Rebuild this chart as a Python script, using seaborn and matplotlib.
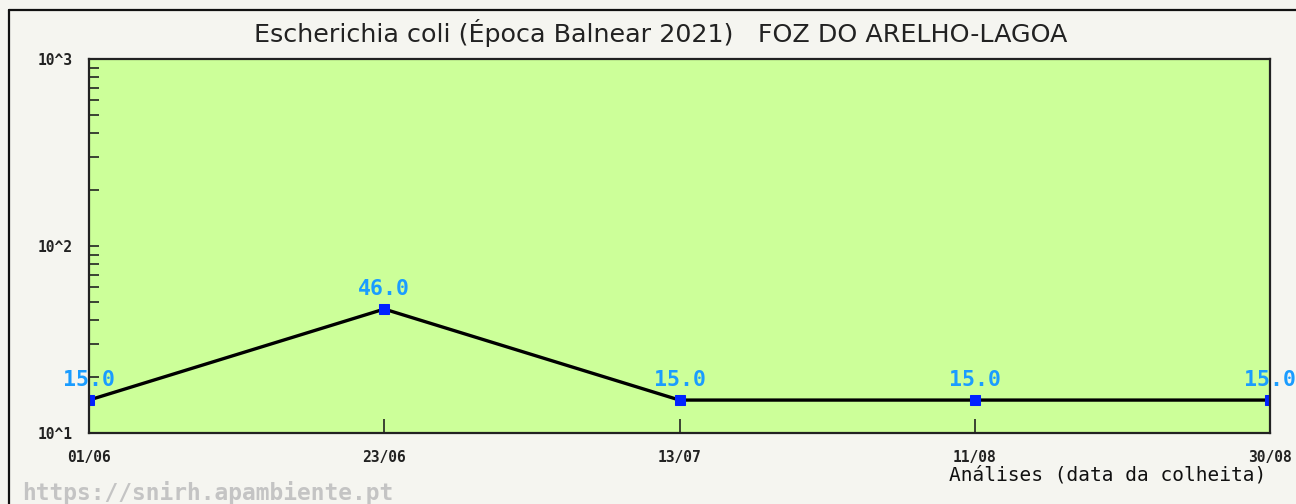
import matplotlib
matplotlib.use('Agg')
import matplotlib.pyplot as plt
import seaborn as sns
import pandas as pd
from matplotlib.ticker import LogLocator, FixedLocator, NullFormatter

dates = ['01/06', '23/06', '13/07', '11/08', '30/08']
values = [15.0, 46.0, 15.0, 15.0, 15.0]
title = 'Escherichia coli (Época Balnear 2021)   FOZ DO ARELHO-LAGOA'

df = pd.DataFrame({'pos': range(len(dates)), 'data': dates, 'valor': values})

sns.set_style('white')
plt.rcParams['font.family'] = ['DejaVu Sans']

fig = plt.figure(figsize=(12.96, 5.04), dpi=100, facecolor='#f5f5f0')
ax = fig.add_axes([89 / 1296, 1 - 433 / 504, (1270 - 89) / 1296, (433 - 59) / 504])
ax.set_facecolor('#ccff99')

sns.lineplot(x='pos', y='valor', data=df, ax=ax, color='black', linewidth=2.4,
             marker='s', markersize=6.5, markerfacecolor='#0022ff', markeredgecolor='#0022ff')

ax.set_yscale('log')
ax.set_ylim(10, 1000)
ax.set_xlim(0, len(dates) - 1)

mono = 'DejaVu Sans Mono'
ax.yaxis.set_major_locator(FixedLocator([10, 100, 1000]))
ax.set_yticklabels(['10^1', '10^2', '10^3'], family=mono,
                   fontweight='bold', fontsize=10.5, color='#222222')
ax.yaxis.set_minor_locator(LogLocator(base=10, subs=range(2, 10)))
ax.yaxis.set_minor_formatter(NullFormatter())
ax.tick_params(axis='y', which='both', direction='in', length=7, width=1.2,
               pad=12, left=True, color='#222222')

ax.set_xticks(df['pos'])
ax.set_xticklabels(dates, family=mono, fontweight='bold',
                   fontsize=10.5, color='#222222')
ax.tick_params(axis='x', direction='in', length=10, width=1.2, pad=12,
               bottom=True, color='#222222')

for spine in ax.spines.values():
    spine.set_visible(True)
    spine.set_color('#222222')
    spine.set_linewidth(1.6)

for x, y in zip(df['pos'], df['valor']):
    ax.annotate(f'{y:.1f}', (x, y), xytext=(0, 7), textcoords='offset points',
                ha='center', va='bottom', color='#1a9cff', fontsize=15.5,
                fontweight='bold', family=mono, clip_on=False)

ax.set_xlabel('')
ax.set_ylabel('')

fig.text(661 / 1296, 1 - 33 / 504, title, ha='center', va='center',
         fontsize=18.3, color='#222222')
fig.text(1266 / 1296, 1 - 475 / 504, 'Análises (data da colheita)', ha='right',
         va='center', fontsize=14, family=mono, color='#111111')
fig.text(22 / 1296, 1 - 493 / 504, 'https://snirh.apambiente.pt', ha='left',
         va='center', fontsize=16.5, family=mono, fontweight='bold',
         color='#c4c4c4')

# outer frame lines (left and top)
fig.add_artist(plt.Line2D([9 / 1296, 9 / 1296], [0, 1 - 10 / 504],
                          transform=fig.transFigure, color='#111111', linewidth=1.6))
fig.add_artist(plt.Line2D([9 / 1296, 1], [1 - 10 / 504, 1 - 10 / 504],
                          transform=fig.transFigure, color='#111111', linewidth=1.6))

fig.savefig('out.png', dpi=100, facecolor=fig.get_facecolor())
